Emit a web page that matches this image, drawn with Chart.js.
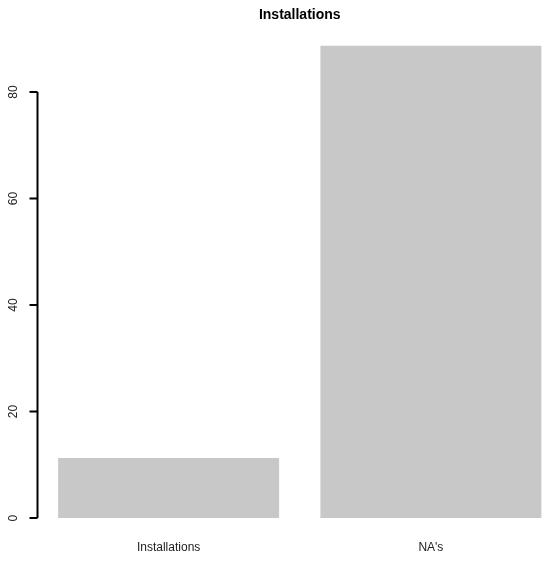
<!DOCTYPE html>
<html>
<head>
<meta charset="utf-8">
<script src="https://cdn.jsdelivr.net/npm/chart.js@4.4.1/dist/chart.umd.min.js"></script>
<style>
  html, body { margin: 0; padding: 0; background: #fff; overflow: hidden; }
  canvas { display: block; }
</style>
</head>
<body>
<canvas id="chart" width="564" height="565"></canvas>
<script>
const categories = ["Installations", "NA's"];
const counts = [11.3, 88.7];
const yTicks = [0, 20, 40, 60, 80];

// R-style y axis: line only from first to last tick, vertical labels
const rAxis = {
  id: 'rAxis',
  afterDraw(chart) {
    const ctx = chart.ctx;
    const y = chart.scales.y;
    const x0 = chart.chartArea.left;
    ctx.save();
    ctx.strokeStyle = '#000';
    ctx.lineWidth = 2;
    ctx.beginPath();
    ctx.moveTo(x0, y.getPixelForValue(yTicks[0]));
    ctx.lineTo(x0, y.getPixelForValue(yTicks[yTicks.length - 1]));
    yTicks.forEach(v => {
      const py = y.getPixelForValue(v);
      ctx.moveTo(x0, py);
      ctx.lineTo(x0 - 8, py);
    });
    ctx.stroke();
    ctx.fillStyle = '#222';
    ctx.font = '12px "Liberation Sans", Arial, sans-serif';
    ctx.textAlign = 'center';
    ctx.textBaseline = 'middle';
    yTicks.forEach(v => {
      ctx.save();
      ctx.translate(14, y.getPixelForValue(v));
      ctx.rotate(-Math.PI / 2);
      ctx.fillText(String(v), 0, 0);
      ctx.restore();
    });
    ctx.restore();
  }
};

new Chart(document.getElementById('chart'), {
  type: 'bar',
  data: {
    labels: categories,
    datasets: [{
      data: counts,
      backgroundColor: '#c8c8c8',
      borderWidth: 0,
      categoryPercentage: 1,
      barPercentage: 0.8427
    }]
  },
  options: {
    responsive: false,
    animation: false,
    layout: { padding: { left: 37.5, right: 2, top: 0, bottom: 0 } },
    plugins: {
      legend: { display: false },
      tooltip: { enabled: false },
      title: {
        display: true,
        text: 'Installations',
        color: '#000',
        font: { family: '"Liberation Sans", Arial, sans-serif', size: 14, weight: 'bold' },
        padding: { top: 7, bottom: 3 }
      }
    },
    scales: {
      x: {
        grid: { display: false, drawTicks: false },
        border: { display: false },
        ticks: {
          color: '#222',
          padding: 3,
          font: { family: '"Liberation Sans", Arial, sans-serif', size: 12 }
        },
        afterFit(scale) { scale.height = 28; }
      },
      y: {
        display: false,
        min: -3.55,
        max: 92.25
      }
    }
  },
  plugins: [rAxis]
});
</script>
</body>
</html>
